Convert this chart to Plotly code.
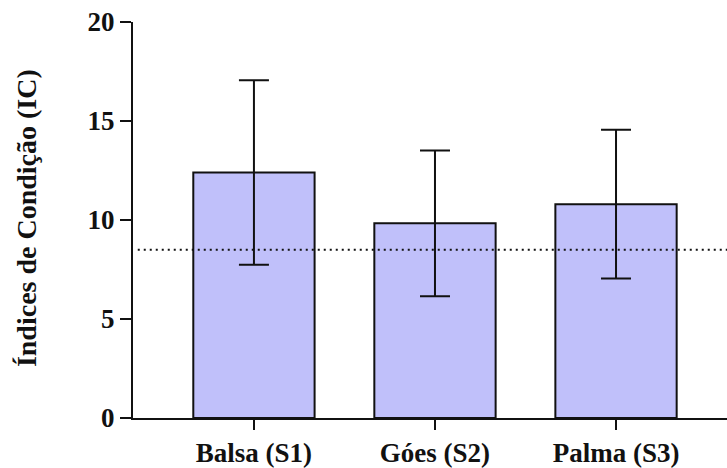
import plotly.graph_objects as go

categories = ["Balsa (S1)", "Góes (S2)", "Palma (S3)"]
means = [12.4, 9.83, 10.8]
errors = [4.66, 3.68, 3.76]
reference_value = 8.5
y_ticks = [0, 5, 10, 15, 20]

positions = list(range(len(categories)))

FONT = "Liberation Serif"
INK = "#111111"

fig = go.Figure()
fig.add_trace(go.Bar(
    x=positions, y=means, width=0.67,
    marker=dict(color="rgb(192,192,250)", line=dict(color=INK, width=2)),
    error_y=dict(type="data", array=errors, visible=True, color=INK, thickness=2, width=15),
    showlegend=False,
))

fig.add_shape(type="line", xref="paper", yref="y", x0=0.008, x1=1, y0=reference_value, y1=reference_value,
              line=dict(color=INK, width=2, dash="2px,4px"), layer="above")

fig.update_layout(
    width=727, height=468,
    margin=dict(l=133, r=0, t=22, b=46),
    plot_bgcolor="white", paper_bgcolor="white",
    font=dict(family=FONT, size=27, color=INK, weight="bold"),
    xaxis=dict(
        range=[-0.668, 2.613], tickmode="array", tickvals=positions, ticktext=categories,
        showline=True, linecolor=INK, linewidth=2, ticks="outside", ticklen=10, tickwidth=2,
        tickcolor=INK, showgrid=False, zeroline=False,
        tickfont=dict(family=FONT, size=27, color=INK, weight="bold"),
    ),
    yaxis=dict(
        range=[0, 20], tickmode="array", tickvals=y_ticks,
        showline=True, linecolor=INK, linewidth=2, ticks="outside", ticklen=11, tickwidth=2,
        tickcolor=INK, showgrid=False, zeroline=False,
        tickfont=dict(family=FONT, size=27, color=INK, weight="bold"),
    ),
    annotations=[dict(
        text="Índices de Condição (IC)", textangle=-90, xref="paper", yref="paper",
        x=-0.18, y=0.505, xanchor="center", yanchor="middle", showarrow=False,
        font=dict(family=FONT, size=28, color=INK, weight="bold"),
    )],
)

fig.write_html(
    "out.html",
    config={"displayModeBar": False},
    post_script="document.body.style.margin='0';document.body.style.overflow='hidden';",
)
